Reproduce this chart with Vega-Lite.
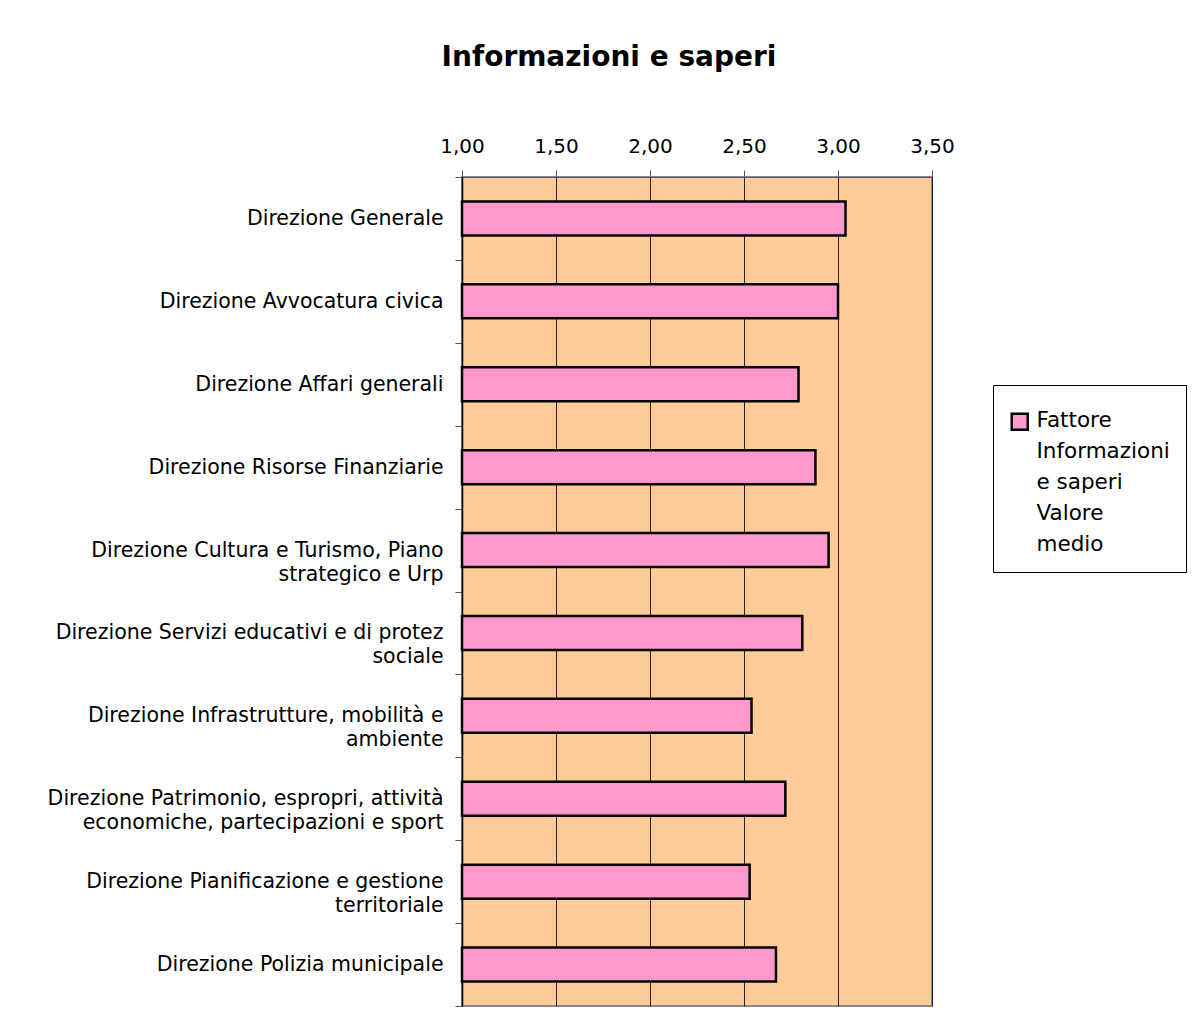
{
  "$schema": "https://vega.github.io/schema/vega-lite/v6.json",
  "width": 470,
  "height": 829,
  "autosize": "none",
  "padding": {"left": 462, "top": 177, "right": 268, "bottom": 12},
  "background": "white",
  "title": {
    "text": "Informazioni e saperi",
    "anchor": "middle",
    "frame": "group",
    "dx": -88,
    "offset": 64,
    "font": "DejaVu Sans",
    "fontSize": 28,
    "fontWeight": "bold",
    "color": "black"
  },
  "data": {
    "values": [
      {"direzione": "Direzione Generale", "valore": 3.04, "serie": "Fattore|Informazioni|e saperi|Valore|medio"},
      {"direzione": "Direzione Avvocatura civica", "valore": 3.00, "serie": "Fattore|Informazioni|e saperi|Valore|medio"},
      {"direzione": "Direzione Affari generali", "valore": 2.79, "serie": "Fattore|Informazioni|e saperi|Valore|medio"},
      {"direzione": "Direzione Risorse Finanziarie", "valore": 2.88, "serie": "Fattore|Informazioni|e saperi|Valore|medio"},
      {"direzione": "Direzione Cultura e Turismo, Piano|strategico e Urp", "valore": 2.95, "serie": "Fattore|Informazioni|e saperi|Valore|medio"},
      {"direzione": "Direzione Servizi educativi e di protez|sociale", "valore": 2.81, "serie": "Fattore|Informazioni|e saperi|Valore|medio"},
      {"direzione": "Direzione Infrastrutture, mobilità e|ambiente", "valore": 2.54, "serie": "Fattore|Informazioni|e saperi|Valore|medio"},
      {"direzione": "Direzione Patrimonio, espropri, attività|economiche, partecipazioni e sport", "valore": 2.72, "serie": "Fattore|Informazioni|e saperi|Valore|medio"},
      {"direzione": "Direzione Pianificazione e gestione|territoriale", "valore": 2.53, "serie": "Fattore|Informazioni|e saperi|Valore|medio"},
      {"direzione": "Direzione Polizia municipale", "valore": 2.67, "serie": "Fattore|Informazioni|e saperi|Valore|medio"}
    ]
  },
  "mark": {"type": "bar", "height": {"band": 0.41}, "stroke": "black", "strokeWidth": 2.5},
  "encoding": {
    "y": {
      "field": "direzione",
      "type": "nominal",
      "sort": null,
      "scale": {"paddingInner": 0, "paddingOuter": 0},
      "axis": {
        "title": null,
        "tickBand": "extent",
        "tickSize": 7,
        "tickColor": "#555555",
        "domainColor": "black",
        "domainWidth": 1.5,
        "grid": false,
        "labelExpr": "split(datum.label, '|')",
        "labelFont": "DejaVu Sans",
        "labelFontSize": 20.5,
        "labelLineHeight": 24,
        "labelColor": "black",
        "labelAlign": "right",
        "labelBaseline": "middle",
        "labelPadding": 12,
        "labelLimit": 500
      }
    },
    "x": {
      "field": "valore",
      "type": "quantitative",
      "scale": {"domain": [1, 3.5], "nice": false, "zero": false},
      "axis": {
        "orient": "top",
        "title": null,
        "values": [1, 1.5, 2, 2.5, 3, 3.5],
        "labelExpr": "replace(format(datum.value, '.2f'), '.', ',')",
        "labelFont": "DejaVu Sans",
        "labelFontSize": 20,
        "labelColor": "black",
        "labelPadding": 14,
        "labelFlush": false,
        "tickSize": 7,
        "tickColor": "#555555",
        "domainColor": "#555555",
        "grid": true,
        "gridColor": "#222222",
        "gridWidth": 1,
        "gridOpacity": 1
      }
    },
    "x2": {"datum": 1},
    "color": {
      "field": "serie",
      "type": "nominal",
      "scale": {"range": ["#FF99CC"]},
      "legend": {
        "title": " ",
        "titleFontSize": 5,
        "titlePadding": 5,
        "orient": "none",
        "legendX": 531,
        "legendY": 208,
        "padding": 16,
        "strokeColor": "black",
        "fillColor": "white",
        "symbolType": "square",
        "symbolSize": 256,
        "symbolStrokeColor": "black",
        "symbolStrokeWidth": 2.5,
        "symbolFillColor": "#FF99CC",
        "labelExpr": "split(datum.label, '|')",
        "labelFont": "DejaVu Sans",
        "labelFontSize": 21.5,
        "labelColor": "black",
        "labelBaseline": "top",
        "labelOffset": 6,
        "labelLimit": 400,
        "encode": {"labels": {"update": {"lineHeight": {"value": 31}, "dy": {"value": -12}}}}
      }
    }
  },
  "config": {
    "view": {"fill": "#FFCC99", "stroke": "#888888", "strokeWidth": 2}
  }
}
